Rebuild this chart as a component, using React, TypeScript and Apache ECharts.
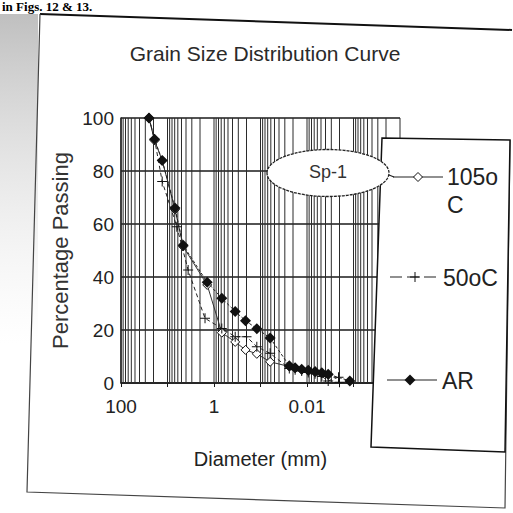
import React, { useEffect, useRef } from "react";
import * as echarts from "echarts";

// ---- data ----
const seriesNames = ["105o C", "50oC", "AR"];

const c105Diameters = [25, 19, 13, 6.9, 4.6, 1.4, 0.68, 0.35, 0.21, 0.12, 0.062, 0.024, 0.018, 0.013, 0.0094, 0.0067, 0.0048, 0.0035];
const c105Passing = [100, 91.5, 84, 65.5, 51.5, 37, 19, 15.5, 12.5, 11, 8, 6.2, 5.6, 5, 4.6, 4.1, 3.7, 3.1];

const c50Diameters = [25, 19, 13, 6.3, 3.6, 1.56, 0.68, 0.35, 0.2, 0.12, 0.062, 0.024, 0.018, 0.013, 0.0094, 0.0067, 0.0048, 0.0035, 0.0021, 0.002];
const c50Passing = [100, 92, 76, 59, 42.6, 24.4, 20.6, 17.5, 17.5, 13.7, 11.2, 5.5, 5, 4.5, 4, 3.5, 2.5, 0.8, 2.2, 0.3];

const arDiameters = [25, 19, 13, 6.9, 4.6, 1.4, 0.68, 0.35, 0.21, 0.12, 0.062, 0.024, 0.018, 0.013, 0.0094, 0.0067, 0.0048, 0.0035, 0.0012];
const arPassing = [100, 92, 84, 66, 52, 38, 32, 27, 23.5, 20.5, 17, 6.5, 5.8, 5.2, 4.8, 4.3, 3.9, 3.3, 0.8];

const xMin = 0.0001;
const xMax = 100;
const yMin = 0;
const yMax = 100;
const yStep = 20;

const titleText = "Grain Size Distribution Curve";
const xName = "Diameter (mm)";
const yName = "Percentage Passing";
const noteText = "Sp-1";
const pageHeading = "in Figs. 12 & 13.";

const FONT = "Liberation Sans, Arial, sans-serif";
const INK = "#1a1a1a";

const plusPath = "path://M4.5,0H5.5V4.5H10V5.5H5.5V10H4.5V5.5H0V4.5H4.5Z";

function pair(xs: number[], ys: number[]) {
  return xs.map((x, i) => [x, ys[i]]);
}

// log-scale minor/major grid positions (1..9 x 10^k)
function logGridValues(min: number, max: number) {
  const out: number[] = [];
  const e0 = Math.round(Math.log10(min));
  const e1 = Math.round(Math.log10(max));
  for (let e = e0; e < e1; e++) {
    for (let m = 1; m <= 9; m++) out.push(parseFloat((m * Math.pow(10, e)).toPrecision(6)));
  }
  out.push(max);
  return out;
}

export default function App() {
  const ref = useRef<HTMLDivElement>(null);

  useEffect(() => {
    const chart = echarts.init(ref.current!, null, { renderer: "svg" });

    const diamond = (cx: number, cy: number, r: number) => [
      [cx, cy - r],
      [cx + r, cy],
      [cx, cy + r],
      [cx - r, cy],
    ];

    const option: any = {
      animation: false,
      backgroundColor: "#ffffff",
      title: {
        text: titleText,
        left: 260,
        top: 38,
        textAlign: "center",
        textStyle: { fontFamily: FONT, fontSize: 21, fontWeight: "normal", color: "#2a2a2a" },
      },
      grid: {
        left: 121,
        right: 113,
        top: 118,
        bottom: 130,
        containLabel: false,
        outerBoundsMode: "none",
      },
      xAxis: {
        type: "log",
        logBase: 10,
        min: xMin,
        max: xMax,
        inverse: true,
        name: xName,
        nameLocation: "middle",
        nameGap: 66,
        nameTextStyle: { fontFamily: FONT, fontSize: 20, color: "#222" },
        axisLine: { show: true, lineStyle: { color: INK, width: 1.5 } },
        axisTick: { show: true, inside: false, length: 4, lineStyle: { color: INK } },
        axisLabel: {
          margin: 14,
          fontFamily: FONT,
          fontSize: 19,
          color: "#222",
          formatter: (v: number) => {
            const e = Math.round(Math.log10(v));
            if (e % 2 !== 0 || e < -2) return "";
            return e >= 0 ? String(Math.pow(10, e)) : Math.pow(10, e).toFixed(-e);
          },
        },
        splitLine: { show: false },
        minorTick: { show: false },
        minorSplitLine: { show: false },
      },
      yAxis: {
        type: "value",
        min: yMin,
        max: yMax,
        interval: yStep,
        name: yName,
        nameLocation: "middle",
        nameGap: 38,
        nameTextStyle: { fontFamily: FONT, fontSize: 22, color: "#333" },
        axisLine: { show: true, lineStyle: { color: INK, width: 1.5 } },
        axisTick: { show: false },
        axisLabel: { margin: 7, fontFamily: FONT, fontSize: 19, color: "#222" },
        splitLine: { show: true, lineStyle: { color: INK, width: 1.5 } },
      },
      series: [
        {
          type: "custom",
          name: "grid",
          silent: true,
          z: 1,
          data: logGridValues(xMin, xMax).map((v) => [v, yMin]),
          encode: { x: 0, y: 1 },
          renderItem: (params: any, api: any) => {
            const v = api.value(0);
            const p0 = api.coord([v, yMin]);
            const p1 = api.coord([v, yMax]);
            return {
              type: "line",
              shape: { x1: p0[0], y1: p0[1], x2: p1[0], y2: p1[1] },
              style: { stroke: "#2b2b2b", lineWidth: 1 },
            };
          },
        },
        {
          type: "line",
          name: seriesNames[0],
          z: 3,
          data: pair(c105Diameters, c105Passing),
          symbol: "diamond",
          symbolSize: 9,
          showSymbol: true,
          lineStyle: { color: "#333", width: 1 },
          itemStyle: { color: "#ffffff", borderColor: "#111", borderWidth: 1 },
        },
        {
          type: "line",
          name: seriesNames[1],
          z: 4,
          data: pair(c50Diameters, c50Passing),
          symbol: plusPath,
          symbolSize: 10,
          showSymbol: true,
          lineStyle: { color: "#222", width: 1, type: [4, 3] },
          itemStyle: { color: "#111" },
        },
        {
          type: "line",
          name: seriesNames[2],
          z: 5,
          data: pair(arDiameters, arPassing),
          symbol: "diamond",
          symbolSize: 11,
          showSymbol: true,
          lineStyle: { color: "#222", width: 1, type: [3, 2] },
          itemStyle: { color: "#111" },
        },
      ],
      graphic: [
        // scan shadow at the left edge
        {
          type: "rect",
          z: 0,
          shape: { x: 0, y: 14, width: 38, height: 330 },
          style: {
            fill: new echarts.graphic.LinearGradient(0, 0, 0, 1, [
              { offset: 0, color: "rgba(170,170,170,0.75)" },
              { offset: 1, color: "rgba(220,220,220,0)" },
            ]),
          },
          silent: true,
        },
        // page heading at the very top
        {
          type: "text",
          z: 20,
          x: 2,
          y: 0,
          style: {
            text: pageHeading,
            fontFamily: "Liberation Serif, DejaVu Serif, serif",
            fontWeight: "bold",
            fontSize: 13,
            fill: "#000",
            verticalAlign: "top",
          },
          silent: true,
        },
        // chart frame
        {
          type: "polyline",
          z: 20,
          shape: { points: [[40, 14], [512, 30]] },
          style: { stroke: "#111", lineWidth: 2, fill: null },
          silent: true,
        },
        {
          type: "polyline",
          z: 20,
          shape: { points: [[40, 14], [27, 492], [505, 508], [510, 140]] },
          style: { stroke: "#444", lineWidth: 1.2, fill: null },
          silent: true,
        },
        // legend box
        {
          type: "polygon",
          z: 30,
          shape: { points: [[382, 138], [510, 140], [505, 452], [371, 447]] },
          style: { fill: "#ffffff", stroke: "#111", lineWidth: 1.5 },
          silent: true,
        },
        // legend entry 1 : 105o C
        {
          type: "line",
          z: 31,
          shape: { x1: 393, y1: 177, x2: 443, y2: 177 },
          style: { stroke: "#222", lineWidth: 1.2 },
        },
        {
          type: "polygon",
          z: 32,
          shape: { points: diamond(418, 177, 4.5) },
          style: { fill: "#fff", stroke: "#111", lineWidth: 1 },
        },
        {
          type: "text",
          z: 32,
          x: 447,
          y: 163,
          style: {
            text: seriesNames[0],
            width: 58,
            overflow: "break",
            lineHeight: 28,
            fontFamily: FONT,
            fontSize: 23,
            fill: "#222",
          },
        },
        // legend entry 2 : 50oC
        {
          type: "line",
          z: 31,
          shape: { x1: 390, y1: 277, x2: 440, y2: 277 },
          style: { stroke: "#222", lineWidth: 1.2, lineDash: [12, 5] },
        },
        {
          type: "polygon",
          z: 32,
          shape: { points: [[410, 276.5], [420, 276.5], [420, 277.5], [410, 277.5]] },
          style: { fill: "#111" },
        },
        {
          type: "line",
          z: 32,
          shape: { x1: 415, y1: 272, x2: 415, y2: 282 },
          style: { stroke: "#111", lineWidth: 1 },
        },
        {
          type: "text",
          z: 32,
          x: 443,
          y: 278,
          style: { text: seriesNames[1], fontFamily: FONT, fontSize: 23, fill: "#222", verticalAlign: "middle" },
        },
        // legend entry 3 : AR
        {
          type: "line",
          z: 31,
          shape: { x1: 387, y1: 380, x2: 437, y2: 380 },
          style: { stroke: "#222", lineWidth: 1.2 },
        },
        {
          type: "polygon",
          z: 32,
          shape: { points: diamond(410, 380, 5.5) },
          style: { fill: "#111" },
        },
        {
          type: "text",
          z: 32,
          x: 442,
          y: 381,
          style: { text: seriesNames[2], fontFamily: FONT, fontSize: 23, fill: "#222", verticalAlign: "middle" },
        },
        // Sp-1 ellipse
        {
          type: "ellipse",
          z: 40,
          shape: { cx: 328, cy: 173, rx: 61, ry: 23.5 },
          style: { fill: "#ffffff", stroke: "#222", lineWidth: 1.3, lineDash: [3, 1] },
        },
        {
          type: "line",
          z: 40,
          shape: { x1: 389, y1: 175, x2: 394, y2: 177 },
          style: { stroke: "#222", lineWidth: 1.2 },
        },
        {
          type: "text",
          z: 41,
          x: 309,
          y: 172,
          style: { text: noteText, fontFamily: FONT, fontSize: 18, fill: "#333", verticalAlign: "middle" },
        },
      ],
    };

    chart.setOption(option);
    return () => chart.dispose();
  }, []);

  return (
    <div
      ref={ref}
      style={{ position: "absolute", left: 0, top: 0, width: 513, height: 513, background: "#ffffff" }}
    />
  );
}
